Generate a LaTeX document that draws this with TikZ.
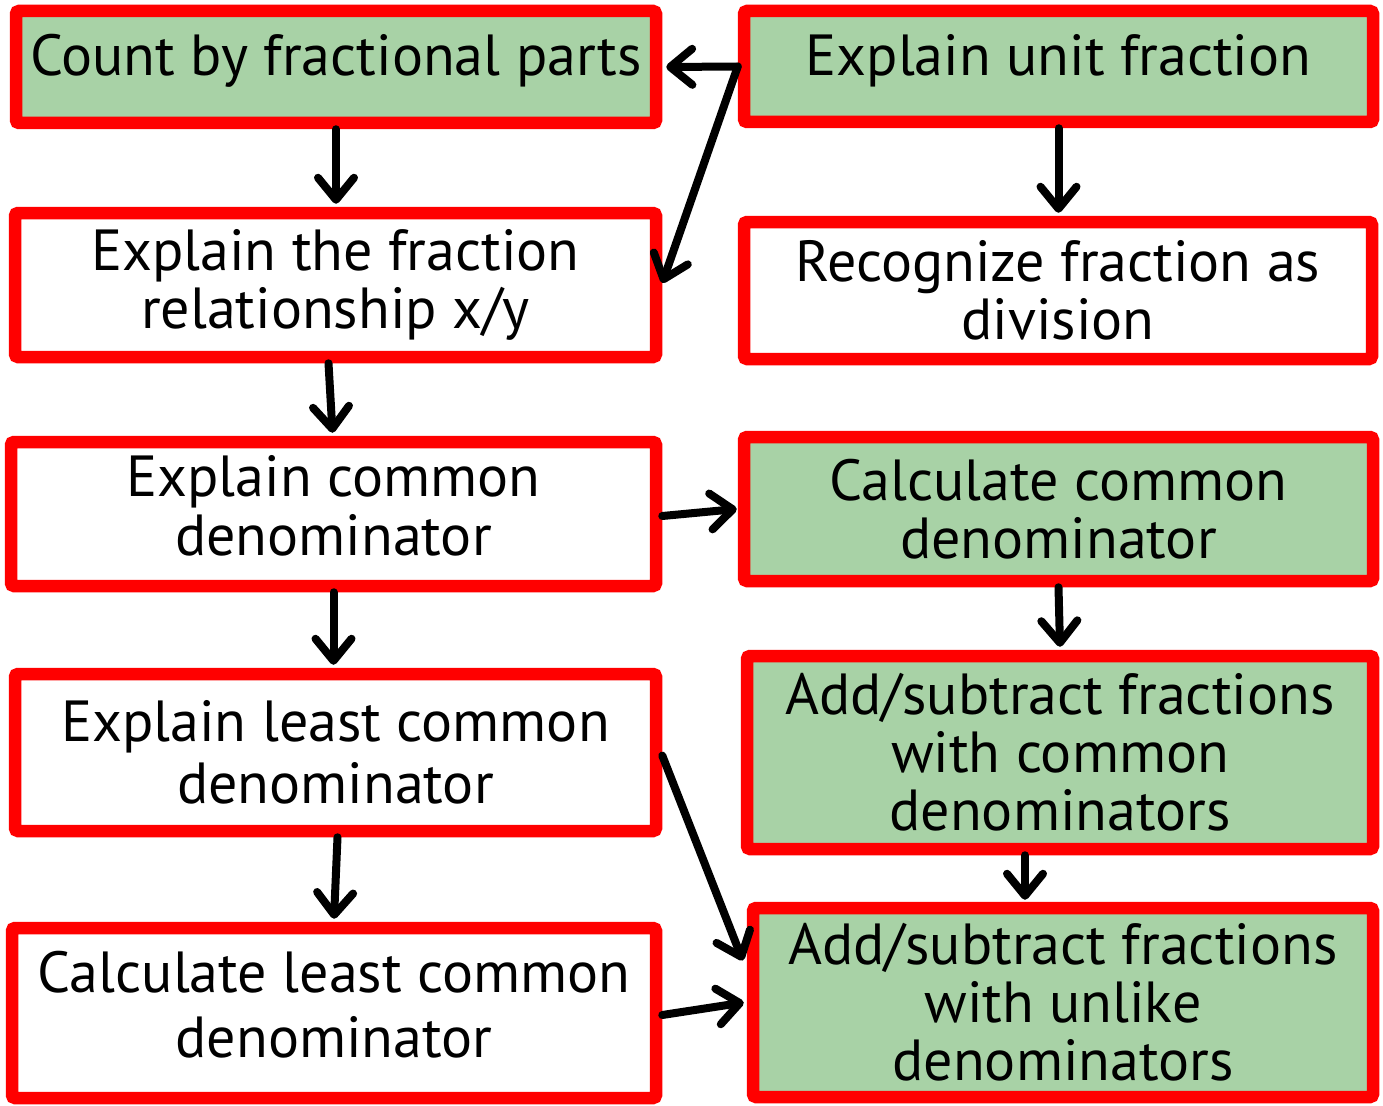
\documentclass[tikz,border=0pt]{standalone}
\usepackage{fontspec}
\setmainfont{PT Sans}
\usetikzlibrary{arrows.meta}
\definecolor{boxgreen}{RGB}{168,210,166}
\definecolor{boxred}{RGB}{255,0,0}
\newcommand{\twolines}[3]{\raisebox{#1}{\begin{tabular}{@{}c@{}}#2\\#3\end{tabular}}}
\tikzset{
  stepbox/.style={draw=boxred, line width=12.5pt, rounded corners=3pt, inner sep=0pt,
    align=center, font=\fontsize{58}{58}\selectfont, text=black},
  greenbox/.style={stepbox, fill=boxgreen},
  whitebox/.style={stepbox, fill=white},
  arr/.style={draw=black, line width=8pt, line cap=round, line join=round,
    -{Straight Barb[length=22pt,width=36pt,round]}}
}
\begin{document}
\begin{tikzpicture}[x=1pt,y=-1pt]
\useasboundingbox (0,0) rectangle (1383,1105);
\node[greenbox, minimum width=640pt, minimum height=112pt] (b1) at (336,67) {\raisebox{24pt}{Count by fractional parts}};
\node[greenbox, minimum width=629pt, minimum height=111pt] (b2) at (1058.5,66.5) {\raisebox{24pt}{Explain unit fraction}};
\node[whitebox, minimum width=641pt, minimum height=144pt] (b3) at (335.5,285) {Explain the fraction\\relationship x/y};
\node[whitebox, minimum width=628pt, minimum height=137pt] (b4) at (1058,290.5) {Recognize fraction as\\division};
\node[whitebox, minimum width=645pt, minimum height=144pt] (b5) at (333.5,514) {\raisebox{10pt}{\begin{tabular}{@{}c@{}}Explain common\\denominator\end{tabular}}};
\node[greenbox, minimum width=629pt, minimum height=144pt] (b6) at (1058.5,509) {Calculate common\\denominator};
\node[whitebox, minimum width=641pt, minimum height=157pt] (b7) at (335.5,752.5) {Explain least common\\[4pt]denominator};
\node[greenbox, minimum width=626pt, minimum height=193pt] (b8) at (1060,752.5) {Add/subtract fractions\\with common\\denominators};
\node[whitebox, minimum width=644pt, minimum height=170pt] (b9) at (334,1013) {\raisebox{22pt}{\begin{tabular}{@{}c@{}}Calculate least common\\[7pt]denominator\end{tabular}}};
\node[greenbox, minimum width=620pt, minimum height=189pt] (b10) at (1063,1002.5) {Add/subtract fractions\\with unlike\\denominators};

\draw[arr] (b1.south) -- ([yshift=3pt]b1.south |- b3.north);
\draw[arr] ([xshift=-7pt]b3.south) -- ([xshift=-1pt,yshift=3pt]b5.north);
\draw[arr] (b5.south) -- ([yshift=3pt]b5.south |- b7.north);
\draw[arr] ([xshift=2pt]b7.south) -- ([yshift=3pt]b9.north);
\draw[arr] (b2.west) -- ([xshift=4pt]b1.east);
\draw[arr] (b2.west) -- ([yshift=2pt]b3.east);
\draw[arr] (b2.south) -- ([yshift=3pt]b2.south |- b4.north);
\draw[arr] ([yshift=-2pt]b5.east) -- ([xshift=-1pt]b6.west);
\draw[arr] (b6.south) -- ([yshift=3pt]b8.north);
\draw[arr] ([xshift=-35pt]b8.south) -- ([xshift=-38pt,yshift=2pt]b10.north);
\draw[arr] ([yshift=-3pt]b7.east) -- ([xshift=-4pt,yshift=42pt]b10.west);
\draw[arr] ([yshift=-2pt]b9.east) -- ([xshift=-3pt]b10.west);
\end{tikzpicture}
\end{document}
